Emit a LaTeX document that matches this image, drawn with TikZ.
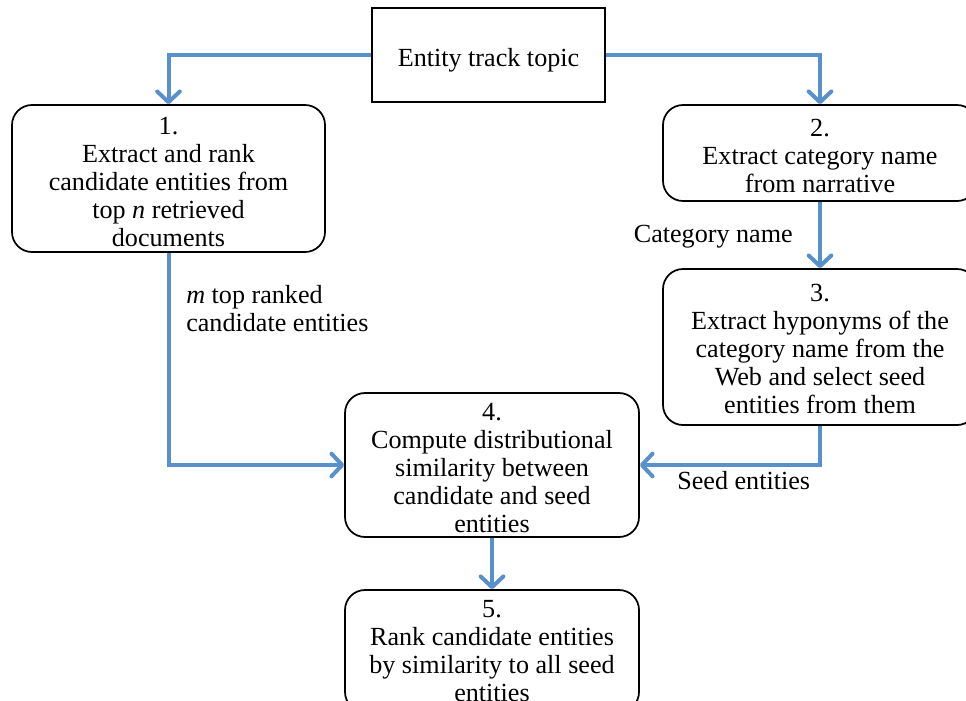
\documentclass[tikz,border=0pt]{standalone}
\usepackage{fontspec}
\setmainfont{Liberation Serif}
\usetikzlibrary{arrows.meta}
\definecolor{flowblue}{RGB}{88,144,204}
\newcommand{\topstrut}[1]{\rule{0pt}{#1}}
\begin{document}
\begin{tikzpicture}[x=0.75pt,y=-0.75pt,
  txt/.style={font=\fontsize{19.6}{21}\selectfont, align=center},
  plainbox/.style={draw=black, line width=1.3pt, txt, inner sep=0pt},
  roundbox/.style={plainbox, rounded corners=15pt},
  arr/.style={draw=flowblue, line width=3pt,
    -{Straight Barb[length=8pt,width=17pt,line cap=round,line join=round]}},
  lbl/.style={font=\fontsize{19.6}{21}\selectfont, inner sep=0pt}]
\clip (0,0) rectangle (966,700);
\fill[white] (0,0) rectangle (966,700);
\node[plainbox, minimum width=0.75*233pt, minimum height=0.75*94pt] (ent) at (488.5,55) {\topstrut{21pt}Entity track topic};
\node[roundbox, minimum width=0.75*313pt, minimum height=0.75*147pt] (b1) at (168.5,178.5)
  {\topstrut{17.6pt}1.\\Extract and rank\\candidate entities from\\top \textit{n} retrieved\\documents};
\node[roundbox, minimum width=0.75*314pt, minimum height=0.75*96pt] (b2) at (820,153)
  {\topstrut{17pt}2.\\Extract category name\\from narrative};
\node[roundbox, minimum width=0.75*314pt, minimum height=0.75*156pt] (b3) at (820,347)
  {\topstrut{16.2pt}3.\\Extract hyponyms of the\\category name from the\\Web and select seed\\entities from them};
\node[roundbox, minimum width=0.75*294pt, minimum height=0.75*144pt] (b4) at (492,465)
  {\topstrut{17.6pt}4.\\Compute distributional\\similarity between\\candidate and seed\\entities};
\node[roundbox, minimum width=0.75*294pt, minimum height=0.75*122pt] (b5) at (492,651)
  {5.\\Rank candidate entities\\by similarity to all seed\\entities};
\draw[arr] (ent.west) -| (b1.north);
\draw[arr] (ent.east) -| (b2.north);
\draw[arr] (b2.south) -- (b3.north);
\draw[arr] (b1.south) |- (b4.west);
\draw[arr] (b3.south) |- (b4.east);
\draw[arr] (b4.south) -- (b5.north);
\node[lbl, anchor=east] (lcat) at (793,237) {Category name};
\node[lbl, anchor=north west, align=left] (lm) at (186,285) {\textit{m} top ranked\\candidate entities};
\node[lbl, anchor=west] (lseed) at (677,481) {Seed entities};
\end{tikzpicture}
\end{document}
